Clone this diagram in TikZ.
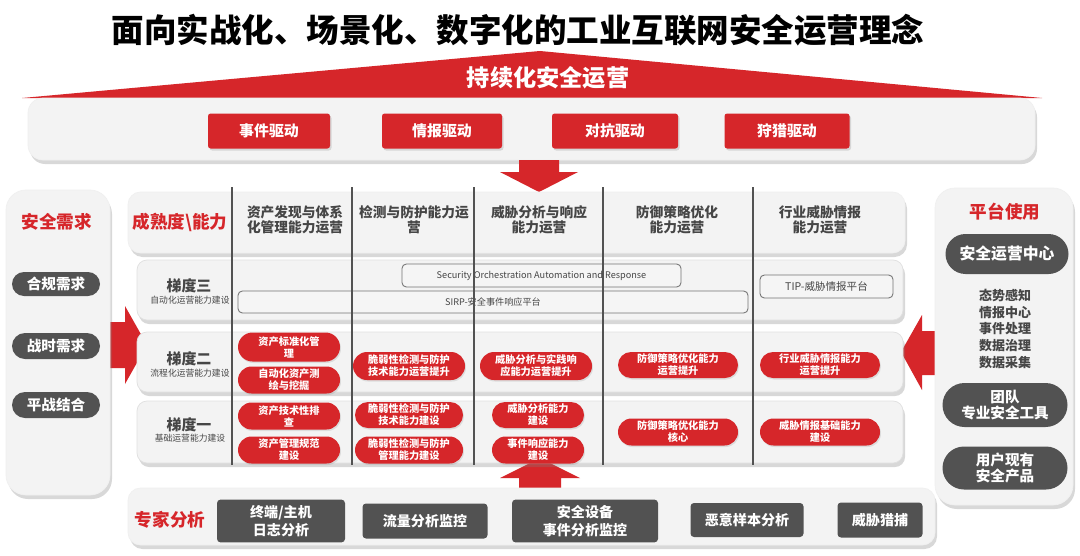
\documentclass[tikz,border=0pt]{standalone}
\usepackage{fontspec}
\setmainfont{Noto Sans CJK SC}
\usepackage{xcolor}
\usetikzlibrary{calc, positioning, shapes.misc, shadows}

\definecolor{opsred}{RGB}{214,38,42}
\definecolor{pilldark}{RGB}{82,82,82}
\definecolor{panelbg}{RGB}{243,243,243}
\definecolor{headgray}{RGB}{70,70,70}
\newcommand{\fsz}[2]{\fontsize{#1}{#2}\selectfont}

\tikzset{panel/.style={fill=panelbg, draw=black!6, rounded corners=#1,
  drop shadow={opacity=0.3, shadow xshift=0.4mm, shadow yshift=-0.8mm}},
panel/.default={3mm}}

\begin{document}
\begin{tikzpicture}[x=0.2mm,y=-0.2mm,
    drive box/.style={rectangle, rounded corners=1.5pt, fill=opsred, text=white,
      font=\bfseries\fsz{8.5}{10}, minimum height=7mm,
      drop shadow={opacity=0.25, shadow xshift=0.3mm, shadow yshift=-0.4mm}},
    red pill/.style={rounded rectangle, fill=opsred, text=white, align=center,
      font=\bfseries\fsz{5.8}{6.8}, inner sep=0pt,
      drop shadow={opacity=0.2, shadow xshift=0.2mm, shadow yshift=-0.3mm}},
    dark pill/.style={rounded rectangle, fill=pilldark, text=white, align=center,
      font=\bfseries\fsz{8.3}{9.6}, inner sep=0pt},
    dark box/.style={rectangle, rounded corners=2pt, fill=pilldark, text=white,
      align=center, font=\bfseries\fsz{8}{10}, minimum height=7mm},
    plat box/.style={rectangle, rounded corners=2.5pt, draw=black!55, line width=0.5pt,
      fill=white!96!black, text=headgray, font=\fsz{5.2}{6}},
    col head/.style={text=headgray, align=center, font=\bfseries\fsz{7.8}{8.6}},
    red head/.style={text=opsred, font=\bfseries\fsz{10}{12}},
    level/.style={text=headgray, font=\bfseries\fsz{8.5}{10}},
    level sub/.style={text=headgray, font=\fsz{5}{6}},
    col line/.style={draw=black!68, line width=1.1pt}]

\useasboundingbox (0,0) rectangle (1080,555);
\fill[white] (0,0) rectangle (1080,555);

%Title and roof
\node[font=\bfseries\fsz{18.5}{22}] (Title) at (518,30) {面向实战化、场景化、数字化的工业互联网安全运营理念};
\fill[opsred] (22,98) -- (540,51) -- (1042,98) -- cycle;
\node[text=white, font=\bfseries\fsz{13.2}{15}] (Roof) at (548,78) {持续化安全运营};

\filldraw[panel] (28,98) rectangle (1035,160);
\node[drive box, minimum width=24.4mm] (DriveEvent) at (269,131) {事件驱动};
\node[drive box, minimum width=24mm] (DriveIntel) at (442,131) {情报驱动};
\node[drive box, minimum width=25.2mm] (DriveCounter) at (615,131) {对抗驱动};
\node[drive box, minimum width=25mm] (DriveHunt) at (787,131) {狩猎驱动};

%Big arrows
\fill[opsred] (519,160) -- (559,160) -- (559,172) -- (578,172) -- (539,192) -- (500,172) -- (519,172) -- cycle;
\fill[opsred] (110,322) -- (125,322) -- (125,306) -- (147,345) -- (125,384) -- (125,368) -- (110,368) -- cycle;
\fill[opsred] (940,331) -- (922,331) -- (922,315) -- (901,352) -- (922,390) -- (922,375) -- (940,375) -- cycle;
\fill[opsred] (519,495) -- (561,495) -- (561,478) -- (580,478) -- (540,458) -- (500,478) -- (519,478) -- cycle;

%Left panel
\filldraw[panel=4mm] (6,190) rectangle (110,495);
\node[red head] (NeedHead) at (57,222) {安全需求};
\node[dark pill, minimum width=17.6mm, minimum height=4.8mm] (NeedComply) at (56,284) {合规需求};
\node[dark pill, minimum width=17.6mm, minimum height=5.2mm] (NeedWar) at (56,346) {战时需求};
\node[dark pill, minimum width=17.6mm, minimum height=5.2mm] (NeedBoth) at (56,405) {平战结合};

%Right panel
\filldraw[panel=4mm] (935,188) rectangle (1073,505);
\node[red head] (PlatHead) at (1005,212) {平台使用};
\node[dark pill, font=\bfseries\fsz{9}{10}, minimum width=24.6mm, minimum height=8mm] (PlatSOC) at (1007,254) {安全运营中心};
\node[text=headgray, align=center, font=\bfseries\fsz{7.4}{9.4}] (PlatList) at (1005,329) {态势感知\\情报中心\\事件处理\\数据治理\\数据采集};
\node[dark pill, minimum width=25mm, minimum height=8.8mm] (PlatTeam) at (1005,405) {团队\\专业安全工具};
\node[dark pill, minimum width=25mm, minimum height=8.6mm] (PlatOwn) at (1005,468) {用户现有\\安全产品};

%Matrix header and rows
\filldraw[panel=2.5mm] (128,192) rectangle (905,253);
\filldraw[panel=2mm, draw=black!12] (137,260) rectangle (903,320);
\filldraw[panel=2mm, draw=black!12] (137,332) rectangle (903,392);
\filldraw[panel=2mm, draw=black!12] (137,401) rectangle (903,463);

\node[red head] (MatrixHead) at (180,222) {成熟度\textbackslash 能力};
\node[col head] (HeadAsset) at (295,220) {资产发现与体系\\化管理能力运营};
\node[col head] (HeadDetect) at (414,220) {检测与防护能力运\\营};
\node[col head] (HeadThreat) at (539,220) {威胁分析与响应\\能力运营};
\node[col head] (HeadDefend) at (677,220) {防御策略优化\\能力运营};
\node[col head] (HeadIntel) at (820,220) {行业威胁情报\\能力运营};

\node[level] (LevelThree) at (189,286) {梯度三};
\node[level sub] (LevelThreeSub) at (190,300) {自动化运营能力建设};
\node[level] (LevelTwo) at (189,359) {梯度二};
\node[level sub] (LevelTwoSub) at (190,373) {流程化运营能力建设};
\node[level] (LevelOne) at (189,425) {梯度一};
\node[level sub] (LevelOneSub) at (190,438) {基础运营能力建设};

%Platforms of level three
\node[plat box, minimum width=55.8mm, minimum height=4.6mm] (PlatSOAR) at (541.5,275.5) {Security Orchestration Automation and Response};
\node[plat box, minimum width=102mm, minimum height=4.4mm] (PlatSIRP) at (493,302) {SIRP-安全事件响应平台};
\node[plat box, font=\fsz{6}{7}, minimum width=26.6mm, minimum height=4.6mm] (PlatTIP) at (826.5,286.5) {TIP-威胁情报平台};

%DRAWING column lines
\foreach \x in {232,352,474,603,753}
 {\draw[col line] (\x,187)--(\x,465);}

%Level two
\node[red pill, minimum width=20.4mm, minimum height=5.8mm] (AssetStd) at (289,347) {资产标准化管\\理};
\node[red pill, minimum width=20.4mm, minimum height=5.4mm] (AssetAuto) at (289,380) {自动化资产测\\绘与挖掘};
\node[red pill, minimum width=22.4mm, minimum height=5.6mm] (DetectUp) at (409,366) {脆弱性检测与防护\\技术能力运营提升};
\node[red pill, minimum width=22.4mm, minimum height=5.6mm] (ThreatUp) at (536,366) {威胁分析与实践响\\应能力运营提升};
\node[red pill, minimum width=24mm, minimum height=5.2mm] (DefendUp) at (678,365) {防御策略优化能力\\运营提升};
\node[red pill, minimum width=24mm, minimum height=5.2mm] (IntelUp) at (820,365) {行业威胁情报能力\\运营提升};

%Level one
\node[red pill, minimum width=20.4mm, minimum height=5.4mm] (AssetTech) at (289,416) {资产技术性排\\查};
\node[red pill, minimum width=20.4mm, minimum height=5.4mm] (AssetRule) at (289,450) {资产管理规范\\建设};
\node[red pill, minimum width=21.6mm, minimum height=5.2mm] (DetectTech) at (409,415) {脆弱性检测与防护\\技术能力建设};
\node[red pill, minimum width=21.6mm, minimum height=5.4mm] (DetectMgmt) at (409,450) {脆弱性检测与防护\\管理能力建设};
\node[red pill, minimum width=18.4mm, minimum height=5.2mm] (ThreatBase) at (538,415) {威胁分析能力\\建设};
\node[red pill, minimum width=18.4mm, minimum height=5.4mm] (RespBase) at (538,450) {事件响应能力\\建设};
\node[red pill, minimum width=24mm, minimum height=5.4mm] (DefendBase) at (678,432) {防御策略优化能力\\核心};
\node[red pill, minimum width=24mm, minimum height=5.4mm] (IntelBase) at (820,432) {威胁情报基础能力\\建设};

%Bottom panel
\filldraw[panel=2.5mm] (128,488) rectangle (935,545);
\node[red head] (ExpertHead) at (170,520) {专家分析};
\node[dark box, minimum width=25.6mm, minimum height=7.4mm] (ExpEndpoint) at (281,521) {终端/主机\\日志分析};
\node[dark box, minimum width=25mm] (ExpFlow) at (425,521) {流量分析监控};
\node[dark box, minimum width=29.2mm, minimum height=6.8mm] (ExpDevice) at (585,521) {安全设备\\事件分析监控};
\node[dark box, minimum width=22.6mm, minimum height=6.8mm] (ExpSample) at (747,520) {恶意样本分析};
\node[dark box, minimum width=17mm] (ExpHunt) at (880,520) {威胁猎捕};

\end{tikzpicture}
\end{document}
